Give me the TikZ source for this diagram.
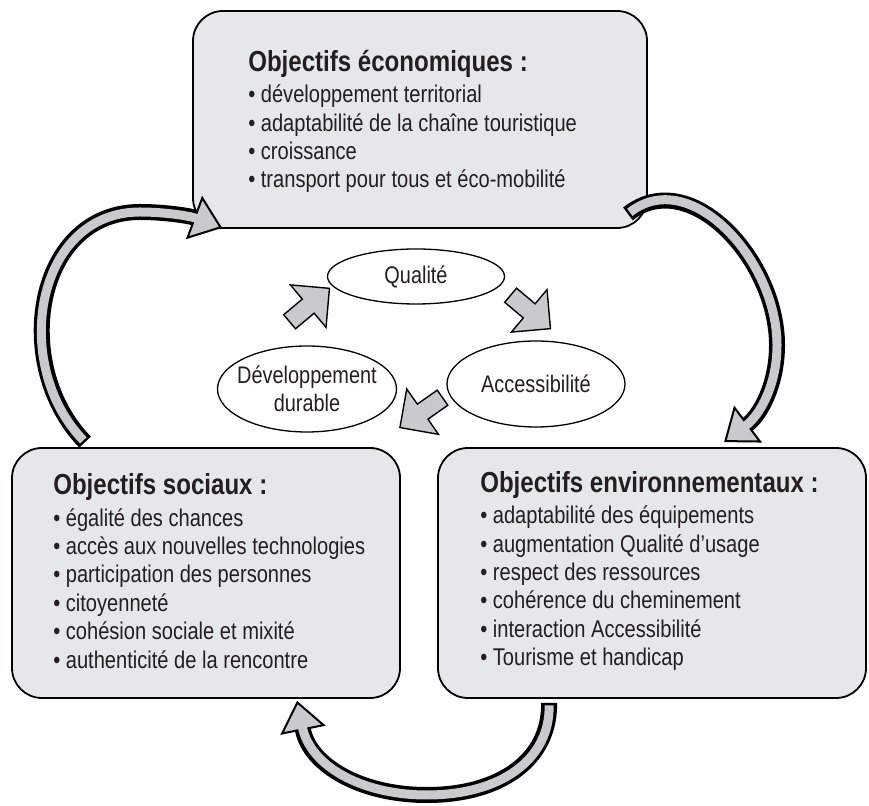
\documentclass[tikz,border=0pt]{standalone}
\usepackage{fontspec}
\setmainfont{Liberation Sans}[FakeStretch=0.83]
\usetikzlibrary{shapes.geometric,shapes.arrows,arrows.meta}

\definecolor{boxgray}{HTML}{E6E7E8}
\definecolor{arrowgray}{HTML}{C9CACC}
\definecolor{inkblack}{HTML}{231F20}

\tikzset{
  objbox/.style={draw=black, line width=1.8pt, fill=boxgray, rounded corners=30pt},
  objtext/.style={anchor=west, align=left, inner sep=0pt, text=inkblack,
    font=\fontsize{24.2}{28.4}\selectfont},
  pole/.style={ellipse, draw=black, line width=1.3pt, fill=white, inner sep=0pt},
  poletext/.style={font=\fontsize{24}{28}\selectfont, text=inkblack, align=center},
  smallarrow/.style={single arrow, draw=black, line width=1.4pt, fill=arrowgray,
    inner xsep=0pt, inner ysep=8.5pt, minimum height=52pt,
    single arrow head extend=18.5pt},
  bigarrow/.style={line width=16pt, draw=black,
    -{Triangle[length=30pt, width=46pt, fill=arrowgray, line width=2pt]},
    postaction={draw=arrowgray, line width=9pt, shorten >=27pt, shorten <=2.5pt, -}},
}
\newcommand{\btitle}[1]{{\fontsize{29}{30}\selectfont\bfseries #1}}

\begin{document}
\begin{tikzpicture}[x=1pt,y=1pt]
  \useasboundingbox (0,0) rectangle (869,805);

  % the three groups of objectives
  \node[objbox, minimum width=454pt, minimum height=217pt] (eco) at (420,685.5) {};
  \node[objbox, minimum width=388pt, minimum height=250pt] (soc) at (206,232) {};
  \node[objbox, minimum width=428pt, minimum height=250pt] (env) at (652,232) {};

  \node[objtext] (ecotext) at ([xshift=56pt,yshift=-2pt]eco.west)
    {\btitle{Objectifs économiques :}\\[3pt]
     • développement territorial\\
     • adaptabilité de la chaîne touristique\\
     • croissance\\
     • transport pour tous et éco-mobilité};
  \node[objtext] (soctext) at ([xshift=42pt,yshift=2pt]soc.west)
    {\btitle{Objectifs sociaux :}\\[3pt]
     • égalité des chances\\
     • accès aux nouvelles technologies\\
     • participation des personnes\\
     • citoyenneté\\
     • cohésion sociale et mixité\\
     • authenticité de la rencontre};
  \node[objtext] (envtext) at ([xshift=43pt,yshift=2pt]env.west)
    {\btitle{Objectifs environnementaux :}\\[3pt]
     • adaptabilité des équipements\\
     • augmentation Qualité d’usage\\
     • respect des ressources\\
     • cohérence du cheminement\\
     • interaction Accessibilité\\
     • Tourisme et handicap};

  % inner cycle
  \node[pole, minimum width=177pt, minimum height=55pt,
        label={[poletext]center:Qualité}] (qual) at (416,528.5) {};
  \node[pole, minimum width=178pt, minimum height=86pt,
        label={[poletext]center:Accessibilité}] (acc) at (536,421) {};
  \node[pole, minimum width=179pt, minimum height=86pt,
        label={[poletext]center:Développement\\durable}] (dd) at (307,416) {};

  \node[smallarrow, rotate=40] (ddqual) at (306,497) {};
  \node[smallarrow, rotate=-40] (qualacc) at (527,496) {};
  \node[smallarrow, rotate=215] (accdd) at (425,395) {};

  % outer cycle
  \draw[bigarrow] ([shift={(74pt,5pt)}]soc.north west)
    .. controls (10,440) and (35,593) .. (140,593)
    .. controls (165,593) and (190,589) .. ([shift={(30pt,1pt)}]eco.south west);
  \draw[bigarrow] ([shift={(-20pt,15pt)}]eco.south east)
    .. controls (690,640) and (777,545) .. (777,460)
    .. controls (777,420) and (760,390) .. ([shift={(287pt,5pt)}]env.north west);
  \draw[bigarrow] ([shift={(112pt,-4pt)}]env.south west)
    .. controls (550,45) and (500,10) .. (427,10)
    .. controls (360,10) and (310,40) .. ([shift={(286pt,-2pt)}]soc.south west);
\end{tikzpicture}
\end{document}
